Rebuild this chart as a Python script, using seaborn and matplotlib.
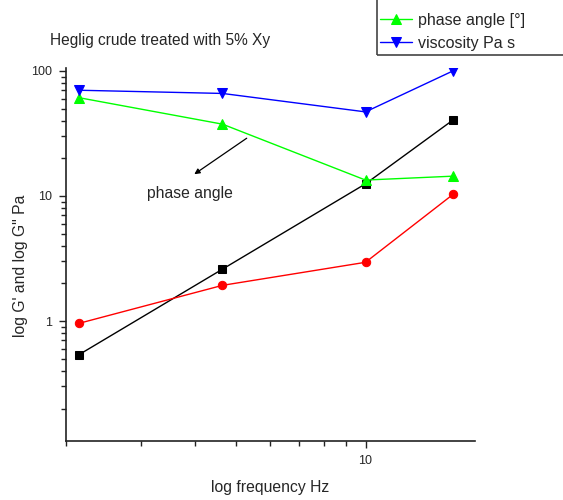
import numpy as np
import seaborn as sns
import matplotlib.pyplot as plt
from matplotlib.ticker import LogLocator, NullFormatter, FixedLocator, FixedFormatter
from matplotlib.patches import Rectangle

freq = [2.15, 4.64, 10.0, 16.0]
g_prime = [0.54, 2.6, 12.5, 40.5]
g_double = [0.96, 1.93, 2.95, 10.3]
phase_angle = [61.0, 37.5, 13.4, 14.4]
viscosity = [70.0, 66.0, 47.0, 100.0]
x_ticks = [10]
y_ticks = [1, 10, 100]

sns.set_style('ticks')
plt.rcParams['font.family'] = ['Liberation Sans', 'DejaVu Sans']

fig = plt.figure(figsize=(5.63, 5.0), dpi=100)
ax = fig.add_axes([0.1167, 0.118, 0.727, 0.7466])

kw = dict(ax=ax, linewidth=1, legend=False)
sns.lineplot(x=freq, y=g_prime, color='black', marker='s', markersize=5.5,
             markeredgecolor='black', **kw)
sns.lineplot(x=freq, y=g_double, color='red', marker='o', markersize=6,
             markeredgecolor='red', **kw)
sns.lineplot(x=freq, y=phase_angle, color='#00ff00', marker='^', markersize=7.5,
             markeredgecolor='#00ff00', label='phase angle [\u00b0]', ax=ax, linewidth=1)
sns.lineplot(x=freq, y=viscosity, color='blue', marker='v', markersize=7.5,
             markeredgecolor='blue', label='viscosity Pa s', ax=ax, linewidth=1)

ax.set_xscale('log')
ax.set_yscale('log')
ax.set_xlim(2.0, 18.0)
ax.set_ylim(0.11, 106)

ax.xaxis.set_major_locator(FixedLocator(x_ticks))
ax.xaxis.set_major_formatter(FixedFormatter([str(t) for t in x_ticks]))
ax.xaxis.set_minor_locator(LogLocator(base=10, subs=np.arange(2, 10)))
ax.xaxis.set_minor_formatter(NullFormatter())
ax.yaxis.set_major_locator(FixedLocator(y_ticks))
ax.yaxis.set_major_formatter(FixedFormatter([str(t) for t in y_ticks]))
ax.yaxis.set_minor_locator(LogLocator(base=10, subs=np.arange(2, 10)))
ax.yaxis.set_minor_formatter(NullFormatter())
ax.tick_params(which='major', length=5, width=1, labelsize=9, color='#222222', pad=5)
ax.tick_params(which='minor', length=3.5, width=1, color='#222222')

for s in ['left', 'bottom']:
    ax.spines[s].set_color('#222222')
    ax.spines[s].set_linewidth(1.2)
sns.despine(ax=ax)

ax.set_xlabel('log frequency Hz', fontsize=11.3)
ax.set_ylabel('log G\' and log G" Pa', fontsize=11.3)
ax.xaxis.set_label_coords(0.5, -0.105)
ax.yaxis.set_label_coords(-0.093, 0.47)

# arrow and label for the phase angle curve
ax.annotate('', xy=(3.94, 14.5), xytext=(5.35, 29.8),
            arrowprops=dict(arrowstyle='-|>', color='black', lw=0.9, mutation_scale=8))
ax.text(3.90, 10.4, 'phase angle', fontsize=11.3, ha='center', va='center')

fig.text(0.0888, 0.92, 'Heglig crude treated with 5% Xy', fontsize=11.2, va='center')

ax.legend(loc='upper left', bbox_to_anchor=(0.650, 1.003), bbox_transform=fig.transFigure,
          frameon=False, fontsize=11.5, handlelength=2.0, handletextpad=0.35, labelspacing=0.5)
fig.patches.append(Rectangle((0.6696, 0.89), 0.5, 0.3, transform=fig.transFigure,
                             fill=False, edgecolor='#444444', lw=1.2))

fig.savefig('out.png', dpi=100)
